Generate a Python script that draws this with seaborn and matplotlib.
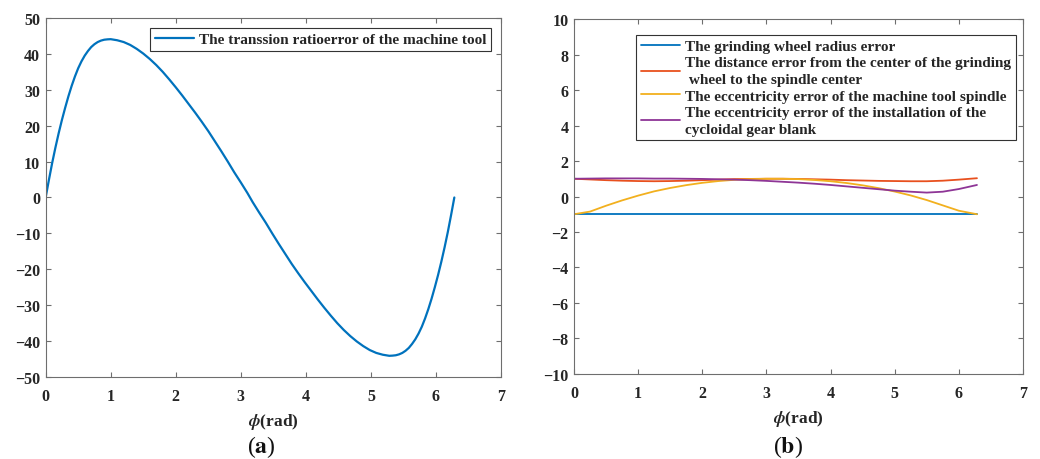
import numpy as np
import pandas as pd
import matplotlib
matplotlib.use("Agg")
import matplotlib.pyplot as plt
import seaborn as sns

# ---------------- data ----------------
# panel (a): transmission ratio error
phi_a = [0.0, 0.05, 0.1, 0.15, 0.2, 0.25, 0.3, 0.35, 0.4, 0.45, 0.5, 0.55, 0.6,
         0.65, 0.7, 0.75, 0.8, 0.85, 0.9, 0.95, 1.0, 1.1, 1.2, 1.3, 1.4, 1.5, 1.6,
         1.7, 1.8, 1.9, 2.0, 2.1, 2.2, 2.3, 2.4, 2.5, 2.6, 2.7, 2.8, 2.9, 3.0,
         3.1, 3.1416,
         3.183, 3.283, 3.383, 3.483, 3.583, 3.683, 3.783, 3.883, 3.983, 4.083,
         4.183, 4.283, 4.383, 4.483, 4.583, 4.683, 4.783, 4.883, 4.983, 5.083,
         5.183, 5.283, 5.333, 5.383, 5.433, 5.483, 5.533, 5.583, 5.633, 5.683,
         5.733, 5.783, 5.833, 5.883, 5.933, 5.983, 6.033, 6.083, 6.133, 6.183,
         6.233, 6.283]
err_a = [0.0, 4.9, 9.6, 13.9, 17.9, 21.6, 25.0, 28.2, 31.1, 33.7, 36.0, 37.9, 39.5,
         40.8, 41.9, 42.7, 43.3, 43.7, 43.95, 44.05, 44.1, 43.8, 43.3, 42.5, 41.4,
         40.1, 38.6, 36.9, 35.0, 32.9, 30.7, 28.4, 26.0, 23.6, 21.1, 18.5, 15.7,
         12.9, 10.0, 7.0, 4.2, 1.3, 0.0,
         -1.3, -4.2, -7.0, -10.0, -12.9, -15.7, -18.5, -21.1, -23.6, -26.0,
         -28.4, -30.7, -32.9, -35.0, -36.9, -38.6, -40.1, -41.4, -42.5, -43.3,
         -43.8, -44.1, -44.05, -43.95, -43.7, -43.3, -42.7, -41.9, -40.8, -39.5,
         -37.9, -36.0, -33.7, -31.1, -28.2, -25.0, -21.6, -17.9, -13.9, -9.6,
         -4.9, 0.0]
label_a = "The transsion ratioerror of the machine tool"

# panel (b): individual error components
phi_b = [0.0, 0.25, 0.5, 0.75, 1.0, 1.25, 1.5, 1.75, 2.0, 2.25, 2.5, 2.75, 3.0,
         3.25, 3.5, 3.75, 4.0, 4.25, 4.5, 4.75, 5.0, 5.25, 5.5, 5.75, 6.0, 6.283]
radius_err = [-1.0] * 26
distance_err = [1.0, 0.96, 0.92, 0.89, 0.87, 0.86, 0.87, 0.89, 0.92, 0.95, 0.98,
                0.99, 1.0, 1.0, 0.99, 0.97, 0.95, 0.92, 0.90, 0.88, 0.87, 0.86,
                0.86, 0.89, 0.95, 1.03]
spindle_err = [-1.0, -0.85, -0.52, -0.22, 0.05, 0.29, 0.48, 0.64, 0.77, 0.87, 0.94,
               0.98, 1.0, 1.0, 0.98, 0.93, 0.86, 0.76, 0.63, 0.47, 0.28, 0.06,
               -0.2, -0.5, -0.8, -1.0]
blank_err = [1.0, 1.01, 1.02, 1.02, 1.02, 1.01, 1.01, 1.0, 0.99, 0.97, 0.95, 0.92,
             0.88, 0.83, 0.78, 0.72, 0.65, 0.57, 0.49, 0.41, 0.33, 0.27, 0.22,
             0.27, 0.42, 0.65]
labels_b = ["The grinding wheel radius error",
            "The distance error from the center of the grinding\n wheel to the spindle center",
            "The eccentricity error of the machine tool spindle",
            "The eccentricity error of the installation of the\ncycloidal gear blank"]
colors_b = ["#0072BD", "#E8501E", "#F2B01E", "#8E3596"]

# ---------------- style ----------------
sns.set_theme(style="white")
plt.rcParams["font.family"] = ["Liberation Serif", "DejaVu Serif"]
plt.rcParams["font.weight"] = "bold"
plt.rcParams["mathtext.fontset"] = "stix"
plt.rcParams["axes.unicode_minus"] = True

FS = 11
TFS = 11.5
spine_col = "#6e6e6e"

fig = plt.figure(figsize=(10.4, 4.6), dpi=100)
ax1 = fig.add_axes([0.0439, 0.1783, 0.4378, 0.7804])
ax2 = fig.add_axes([0.5519, 0.1848, 0.4317, 0.7717])

# panel a
sns.lineplot(x=phi_a, y=err_a, ax=ax1, color="#0072BD", linewidth=1.6,
             sort=False, estimator=None, label=label_a)

# panel b
df_b = pd.DataFrame({
    "phi": phi_b * 4,
    "err": radius_err + distance_err + spindle_err + blank_err,
    "series": sum([[lab] * len(phi_b) for lab in labels_b], []),
})
sns.lineplot(data=df_b, x="phi", y="err", hue="series", hue_order=labels_b,
             palette=colors_b, ax=ax2, linewidth=1.3, sort=False, estimator=None)


def style_axes(ax, ylim, yticks):
    ax.set_xlim(0, 7)
    ax.set_ylim(*ylim)
    ax.set_xticks(range(0, 8))
    ax.set_yticks(yticks)
    ax.tick_params(direction="in", length=3.5, width=0.8, colors=spine_col,
                   labelcolor="#262626", labelsize=TFS, top=True, right=True,
                   bottom=True, left=True)
    ax.tick_params(axis="x", pad=8)
    ax.tick_params(axis="y", pad=4)
    for lab in ax.get_xticklabels() + ax.get_yticklabels():
        lab.set_fontweight("bold")
    for sp in ax.spines.values():
        sp.set_visible(True)
        sp.set_color(spine_col)
        sp.set_linewidth(0.8)
    ax.set_xlabel(r"$\phi$(rad)", fontsize=FS + 1.5, fontweight="bold",
                  color="#262626", labelpad=5)
    ax.set_ylabel("")


style_axes(ax1, (-50, 50), range(-50, 51, 10))
style_axes(ax2, (-10, 10), range(-10, 11, 2))

leg1 = ax1.legend(loc="upper right", bbox_to_anchor=(0.978, 0.972), borderaxespad=0,
                  fontsize=FS, frameon=True, fancybox=False, framealpha=1,
                  edgecolor="#333333", handlelength=2.6, handletextpad=0.3,
                  borderpad=0.3)
leg1.get_frame().set_linewidth(0.8)

handles, labs = ax2.get_legend_handles_labels()
leg2 = ax2.legend(handles, labs, loc="upper right", bbox_to_anchor=(0.9837, 0.956),
                  borderaxespad=0, fontsize=FS, frameon=True, fancybox=False,
                  framealpha=1, edgecolor="#333333", handlelength=2.6,
                  handletextpad=0.3, borderpad=0.3, labelspacing=0.2)
leg2.get_frame().set_linewidth(0.8)
for t in leg1.get_texts() + leg2.get_texts():
    t.set_fontweight("bold")
    t.set_linespacing(1.4)

fig.text(0.2516, 0.028, r"($\mathbf{a}$)", ha="center", va="center", fontsize=17,
         fontweight="normal", color="#111111")
fig.text(0.7577, 0.028, r"($\mathbf{b}$)", ha="center", va="center", fontsize=17,
         fontweight="normal", color="#111111")

fig.savefig("out.png", dpi=100)
